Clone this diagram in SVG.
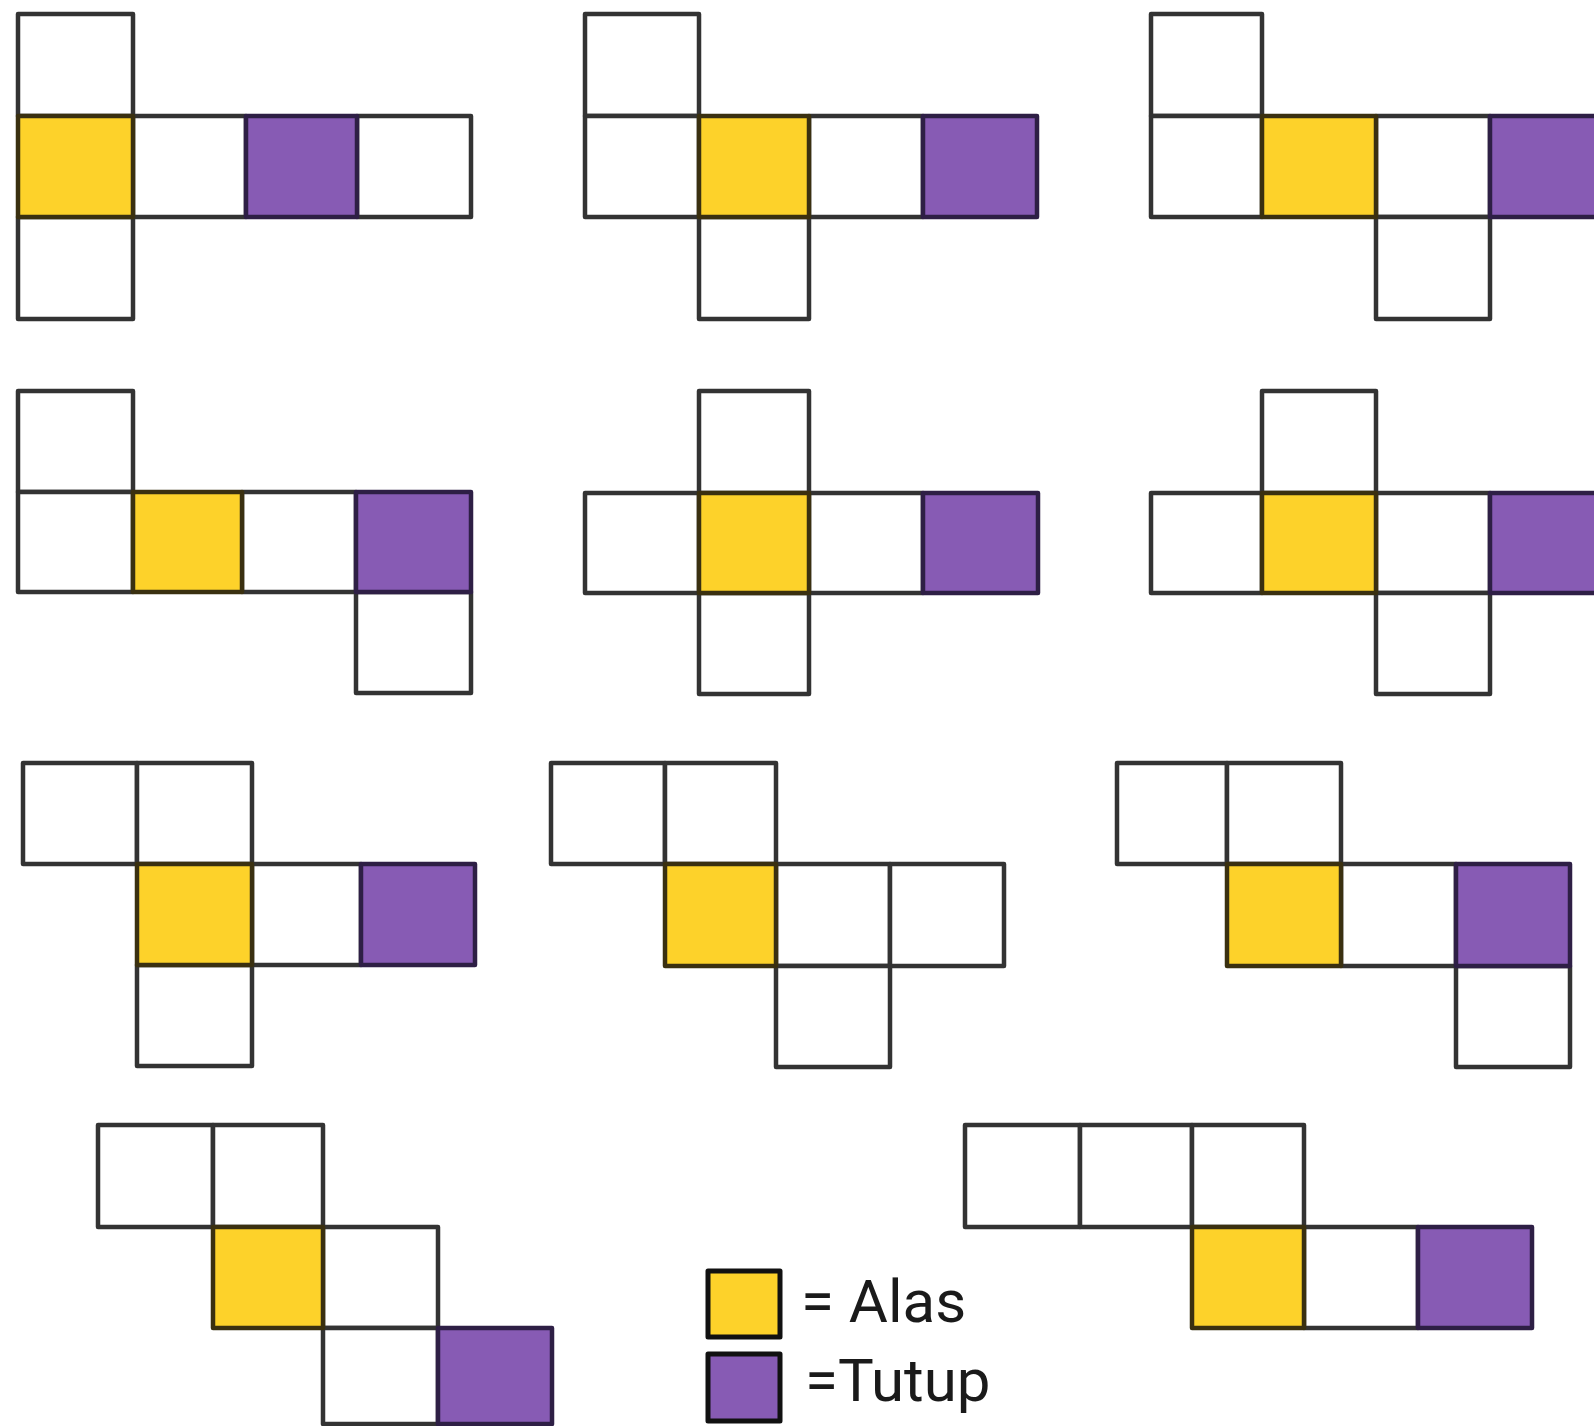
<svg xmlns="http://www.w3.org/2000/svg" width="1594" height="1426" viewBox="0 0 1594 1426">
<style>
.c{fill:#ffffff;stroke:#333333;stroke-width:4.5;stroke-linejoin:round}
.y{fill:#FDD22A;stroke:#3a3010;stroke-width:4.5;stroke-linejoin:round}
.p{fill:#875BB4;stroke:#2e1f45;stroke-width:4.5;stroke-linejoin:round}
.lg{stroke:#111111;stroke-width:5}
.t{font-family:Roboto,"Liberation Sans",sans-serif;font-size:60px;fill:#1a1a1a}
</style>
<rect width="1594" height="1426" fill="#ffffff"/>
<g id="net1">
<rect class="c" x="18" y="14" width="115" height="102"/>
<rect class="c" x="18" y="217" width="115" height="102"/>
<rect class="c" x="133" y="116" width="113" height="101"/>
<rect class="c" x="357" y="116" width="114" height="101"/>
<rect class="y" x="18" y="116" width="115" height="101"/>
<rect class="p" x="246" y="116" width="111" height="101"/>
</g>
<g id="net2">
<rect class="c" x="585" y="14" width="114" height="102"/>
<rect class="c" x="585" y="116" width="114" height="101"/>
<rect class="c" x="809" y="116" width="114" height="101"/>
<rect class="c" x="699" y="217" width="110" height="102"/>
<rect class="y" x="699" y="116" width="110" height="101"/>
<rect class="p" x="923" y="116" width="114" height="101"/>
</g>
<g id="net3">
<rect class="c" x="1151" y="14" width="111" height="102"/>
<rect class="c" x="1151" y="116" width="111" height="101"/>
<rect class="c" x="1376" y="116" width="114" height="101"/>
<rect class="c" x="1376" y="217" width="114" height="102"/>
<rect class="y" x="1262" y="116" width="114" height="101"/>
<rect class="p" x="1490" y="116" width="116" height="101"/>
</g>
<g id="net4">
<rect class="c" x="18" y="391" width="115" height="101"/>
<rect class="c" x="18" y="492" width="115" height="100"/>
<rect class="c" x="242" y="492" width="114" height="100"/>
<rect class="c" x="356" y="592" width="115" height="101"/>
<rect class="y" x="133" y="492" width="109" height="100"/>
<rect class="p" x="356" y="492" width="115" height="100"/>
</g>
<g id="net5">
<rect class="c" x="699" y="391" width="110" height="102"/>
<rect class="c" x="585" y="493" width="114" height="100"/>
<rect class="c" x="809" y="493" width="114" height="100"/>
<rect class="c" x="699" y="593" width="110" height="101"/>
<rect class="y" x="699" y="493" width="110" height="100"/>
<rect class="p" x="923" y="493" width="115" height="100"/>
</g>
<g id="net6">
<rect class="c" x="1262" y="391" width="114" height="102"/>
<rect class="c" x="1151" y="493" width="111" height="100"/>
<rect class="c" x="1376" y="493" width="114" height="100"/>
<rect class="c" x="1376" y="593" width="114" height="101"/>
<rect class="y" x="1262" y="493" width="114" height="100"/>
<rect class="p" x="1490" y="493" width="116" height="100"/>
</g>
<g id="net7">
<rect class="c" x="23" y="763" width="114" height="101"/>
<rect class="c" x="137" y="763" width="115" height="101"/>
<rect class="c" x="252" y="864" width="109" height="101"/>
<rect class="c" x="137" y="965" width="115" height="101"/>
<rect class="y" x="137" y="864" width="115" height="101"/>
<rect class="p" x="361" y="864" width="114" height="101"/>
</g>
<g id="net8">
<rect class="c" x="551" y="763" width="114" height="101"/>
<rect class="c" x="665" y="763" width="111" height="101"/>
<rect class="c" x="776" y="864" width="114" height="102"/>
<rect class="c" x="890" y="864" width="114" height="102"/>
<rect class="c" x="776" y="966" width="114" height="101"/>
<rect class="y" x="665" y="864" width="111" height="102"/>
</g>
<g id="net9">
<rect class="c" x="1117" y="763" width="110" height="101"/>
<rect class="c" x="1227" y="763" width="114" height="101"/>
<rect class="c" x="1341" y="864" width="115" height="102"/>
<rect class="c" x="1456" y="966" width="114" height="101"/>
<rect class="y" x="1227" y="864" width="114" height="102"/>
<rect class="p" x="1456" y="864" width="114" height="102"/>
</g>
<g id="net10">
<rect class="c" x="98" y="1125" width="115" height="102"/>
<rect class="c" x="213" y="1125" width="110" height="102"/>
<rect class="c" x="323" y="1227" width="115" height="101"/>
<rect class="c" x="323" y="1328" width="115" height="96"/>
<rect class="y" x="213" y="1227" width="110" height="101"/>
<rect class="p" x="438" y="1328" width="114" height="96"/>
</g>
<g id="net11">
<rect class="c" x="965" y="1125" width="115" height="102"/>
<rect class="c" x="1080" y="1125" width="112" height="102"/>
<rect class="c" x="1192" y="1125" width="112" height="102"/>
<rect class="c" x="1304" y="1227" width="114" height="101"/>
<rect class="y" x="1192" y="1227" width="112" height="101"/>
<rect class="p" x="1418" y="1227" width="114" height="101"/>
</g>
<g id="legend">
<rect class="y lg" x="708" y="1271" width="72" height="66"/>
<rect class="p lg" x="708" y="1354" width="72" height="67"/>
<text class="t" x="801" y="1322">= Alas</text>
<text class="t" x="805" y="1401">=Tutup</text>
</g>
</svg>
